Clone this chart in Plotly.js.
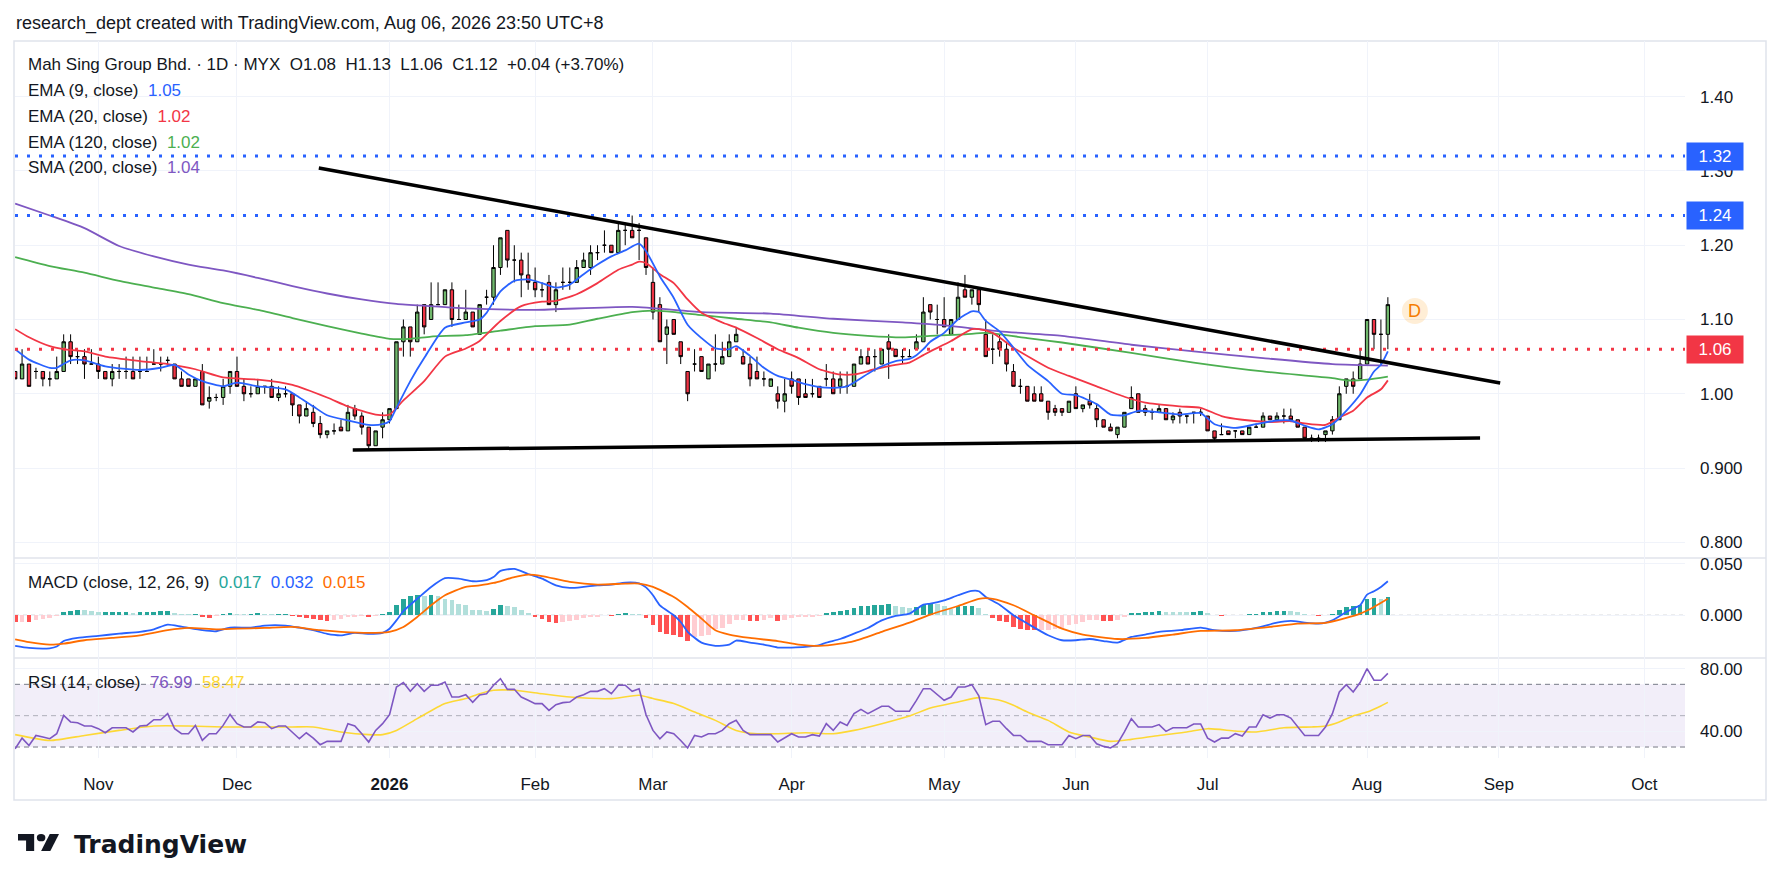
<!DOCTYPE html>
<html><head><meta charset="utf-8">
<script src="https://cdn.plot.ly/plotly-3.0.1.min.js"></script>
<style>html,body{margin:0;padding:0;background:#fff;overflow:hidden}#chart{width:1781px;height:891px}</style>
</head><body><div id="chart"></div>
<script>
// ---------- DATA ----------
const openP = [
1.03,1.02,1.04,1.03,1.03,1.02,1.02,1.03,1.07,1.05,
1.05,1.04,1.04,1.03,1.02,1.03,1.03,1.03,1.03,1.03,
1.04,1.04,1.045,1.04,1.02,1.02,1.01,1.03,0.99,0.995,
0.995,1.01,1.03,1.01,1.00,1.00,1.01,1.01,0.995,1.00,
1.00,0.985,0.97,0.975,0.96,0.945,0.95,0.955,0.95,0.98,
0.97,0.955,0.93,0.955,0.965,0.98,1.07,1.09,1.07,1.12,
1.10,1.12,1.12,1.14,1.10,1.10,1.11,1.08,1.13,1.13,
1.17,1.22,1.18,1.18,1.16,1.15,1.14,1.15,1.12,1.15,
1.15,1.15,1.17,1.17,1.19,1.20,1.20,1.19,1.22,1.22,
1.22,1.21,1.15,1.12,1.08,1.10,1.07,1.03,1.04,1.05,
1.02,1.04,1.04,1.05,1.07,1.05,1.04,1.03,1.02,1.01,
1.00,0.99,1.02,1.02,1.00,1.00,1.01,1.02,1.02,1.01,
1.01,1.01,1.04,1.05,1.05,1.04,1.07,1.06,1.05,1.05,
1.06,1.07,1.12,1.10,1.10,1.08,1.10,1.14,1.13,1.14,
1.08,1.06,1.07,1.06,1.03,1.01,1.01,1.00,1.00,0.99,
0.98,0.98,0.975,1.00,0.98,0.99,0.98,0.965,0.955,0.945,
0.955,0.98,1.00,0.98,0.975,0.975,0.98,0.965,0.975,0.97,
0.975,0.975,0.97,0.95,0.945,0.95,0.95,0.95,0.945,0.955,
0.955,0.97,0.965,0.97,0.97,0.965,0.955,0.94,0.94,0.945,
0.95,0.965,1.01,1.02,1.02,1.04,1.10,1.08,1.08];
const highP = [
1.03,1.06,1.04,1.035,1.03,1.03,1.05,1.08,1.08,1.06,
1.06,1.06,1.05,1.03,1.04,1.04,1.05,1.05,1.05,1.05,
1.06,1.05,1.05,1.04,1.03,1.02,1.02,1.04,1.01,1.00,
1.02,1.03,1.05,1.02,1.01,1.02,1.01,1.02,1.01,1.01,
1.00,0.985,0.99,0.985,0.97,0.95,0.96,0.965,0.985,0.985,
0.975,0.955,0.95,0.975,0.98,1.07,1.10,1.09,1.12,1.12,
1.15,1.15,1.14,1.15,1.12,1.14,1.11,1.12,1.14,1.20,
1.21,1.22,1.20,1.19,1.19,1.17,1.15,1.16,1.15,1.17,
1.17,1.18,1.19,1.20,1.20,1.22,1.20,1.23,1.23,1.24,
1.23,1.21,1.17,1.13,1.10,1.10,1.07,1.03,1.06,1.05,
1.04,1.08,1.07,1.08,1.09,1.06,1.05,1.05,1.03,1.02,
1.01,1.02,1.03,1.02,1.02,1.02,1.01,1.04,1.03,1.03,
1.03,1.04,1.06,1.06,1.06,1.06,1.08,1.06,1.06,1.06,
1.08,1.13,1.12,1.12,1.13,1.10,1.15,1.16,1.14,1.14,
1.10,1.08,1.08,1.07,1.04,1.02,1.01,1.01,1.01,0.99,
0.985,0.98,0.99,1.01,0.985,1.00,0.985,0.965,0.96,0.955,
0.975,1.01,1.00,0.985,0.98,0.985,0.98,0.975,0.98,0.97,
0.975,0.98,0.97,0.95,0.96,0.95,0.95,0.95,0.955,0.96,
0.975,0.97,0.975,0.98,0.98,0.965,0.955,0.945,0.945,0.95,
0.97,1.01,1.02,1.03,1.06,1.10,1.10,1.10,1.13];
const lowP = [
1.02,1.02,1.01,1.02,1.01,1.01,1.02,1.03,1.04,1.04,
1.02,1.04,1.02,1.02,1.01,1.02,1.02,1.02,1.02,1.03,
1.04,1.03,1.04,1.02,1.01,1.01,1.01,0.985,0.98,0.99,
0.985,1.00,1.01,0.99,0.995,1.00,1.00,0.995,0.99,0.995,
0.97,0.96,0.97,0.955,0.94,0.94,0.945,0.95,0.95,0.965,
0.945,0.925,0.93,0.94,0.96,0.98,1.05,1.05,1.07,1.08,
1.10,1.12,1.12,1.09,1.10,1.10,1.09,1.08,1.12,1.12,
1.16,1.17,1.15,1.13,1.14,1.13,1.13,1.12,1.11,1.14,
1.14,1.15,1.17,1.16,1.18,1.19,1.19,1.19,1.20,1.21,
1.18,1.16,1.10,1.07,1.04,1.08,1.04,0.99,1.03,1.03,
1.02,1.03,1.04,1.05,1.07,1.04,1.01,1.02,1.01,1.01,
0.98,0.975,1.00,0.985,0.995,0.995,0.995,1.01,1.00,1.00,
1.00,1.01,1.04,1.04,1.03,1.04,1.02,1.05,1.04,1.05,
1.06,1.07,1.10,1.08,1.09,1.08,1.10,1.13,1.12,1.11,
1.05,1.04,1.05,1.03,1.01,1.00,0.99,0.99,0.99,0.965,
0.97,0.97,0.975,0.98,0.975,0.98,0.955,0.955,0.95,0.94,
0.955,0.98,0.975,0.97,0.965,0.975,0.965,0.96,0.96,0.96,
0.96,0.97,0.95,0.935,0.945,0.945,0.94,0.945,0.945,0.955,
0.955,0.965,0.965,0.96,0.965,0.955,0.94,0.935,0.935,0.935,
0.945,0.965,1.00,1.00,1.02,1.04,1.06,1.04,1.06];
const closeP = [
1.02,1.04,1.01,1.03,1.02,1.02,1.03,1.07,1.05,1.05,
1.04,1.04,1.03,1.02,1.03,1.03,1.03,1.02,1.03,1.03,
1.04,1.04,1.045,1.02,1.01,1.01,1.02,0.985,0.995,0.995,
1.01,1.03,1.01,1.00,1.00,1.01,1.01,0.995,1.00,1.00,
0.985,0.97,0.98,0.96,0.945,0.95,0.95,0.95,0.975,0.97,
0.955,0.93,0.95,0.965,0.98,1.07,1.09,1.07,1.11,1.09,
1.12,1.12,1.14,1.10,1.10,1.11,1.09,1.12,1.13,1.17,
1.21,1.18,1.18,1.16,1.15,1.14,1.14,1.12,1.14,1.15,
1.15,1.17,1.18,1.19,1.19,1.20,1.19,1.22,1.22,1.21,
1.22,1.17,1.11,1.07,1.09,1.08,1.05,1.00,1.04,1.03,
1.04,1.04,1.05,1.07,1.08,1.04,1.02,1.02,1.02,1.02,
0.99,1.00,1.01,0.995,0.995,1.00,0.995,1.02,1.00,1.02,
1.01,1.04,1.05,1.04,1.05,1.06,1.06,1.05,1.05,1.05,
1.07,1.11,1.11,1.10,1.09,1.10,1.13,1.13,1.14,1.12,
1.05,1.06,1.06,1.04,1.01,1.01,0.99,0.99,0.99,0.975,
0.975,0.975,0.99,0.98,0.985,0.985,0.965,0.955,0.95,0.955,
0.975,0.995,0.975,0.975,0.975,0.98,0.965,0.97,0.97,0.97,
0.975,0.975,0.95,0.94,0.945,0.945,0.95,0.945,0.955,0.955,
0.97,0.965,0.97,0.97,0.965,0.955,0.94,0.94,0.94,0.95,
0.965,1.00,1.02,1.01,1.04,1.10,1.08,1.08,1.12];

// moving averages: [bar index, value]
const ema9 = [[0,1.060],[2,1.046],[5,1.035],[6,1.035],[8,1.045],[10,1.045],[13,1.037],[18,1.032],[21,1.035],[23,1.039],[25,1.026],[27,1.017],[30,1.010],[32,1.015],[35,1.010],[39,1.006],[41,0.995],[43,0.983],[45,0.971],[48,0.964],[51,0.958],[53,0.959],[54,0.963],[55,0.981],[57,1.017],[59,1.048],[62,1.089],[65,1.096],[67,1.100],[68,1.109],[70,1.138],[72,1.152],[74,1.154],[76,1.149],[78,1.143],[80,1.147],[82,1.161],[84,1.174],[86,1.185],[88,1.193],[90,1.202],[91,1.192],[93,1.158],[95,1.129],[97,1.093],[99,1.075],[101,1.061],[103,1.060],[104,1.064],[106,1.051],[108,1.035],[110,1.024],[112,1.019],[114,1.013],[116,1.009],[118,1.008],[120,1.010],[121,1.015],[123,1.027],[125,1.037],[127,1.044],[129,1.047],[130,1.052],[131,1.060],[132,1.070],[134,1.082],[136,1.100],[138,1.111],[139,1.110],[140,1.098],[142,1.084],[144,1.062],[146,1.039],[149,1.017],[151,1.000],[153,0.998],[156,0.986],[158,0.972],[160,0.971],[162,0.977],[165,0.975],[168,0.972],[171,0.974],[173,0.959],[176,0.954],[179,0.959],[182,0.964],[184,0.964],[186,0.957],[188,0.952],[190,0.959],[192,0.977],[194,0.999],[196,1.030],[197,1.039],[198,1.057]];
const ema20 = [[0,1.087],[2,1.076],[5,1.064],[7,1.060],[10,1.057],[13,1.050],[18,1.044],[22,1.040],[26,1.033],[30,1.022],[35,1.019],[40,1.012],[45,0.995],[48,0.983],[52,0.972],[54,0.972],[56,0.991],[59,1.017],[62,1.050],[65,1.061],[67,1.071],[68,1.080],[70,1.098],[73,1.118],[76,1.124],[78,1.125],[81,1.134],[84,1.149],[87,1.167],[89,1.174],[90,1.178],[91,1.176],[93,1.161],[95,1.149],[97,1.127],[99,1.109],[102,1.096],[104,1.089],[107,1.075],[110,1.060],[113,1.048],[116,1.033],[119,1.026],[121,1.026],[124,1.033],[127,1.039],[129,1.042],[131,1.052],[132,1.057],[135,1.071],[138,1.087],[139,1.087],[141,1.082],[144,1.062],[149,1.035],[152,1.024],[156,1.010],[160,0.996],[163,0.988],[168,0.983],[171,0.981],[174,0.970],[177,0.965],[181,0.962],[184,0.963],[186,0.960],[189,0.958],[191,0.968],[193,0.977],[195,0.995],[197,1.006],[198,1.018]];
const ema120 = [[0,1.184],[5,1.172],[10,1.163],[15,1.152],[20,1.143],[25,1.134],[30,1.122],[35,1.113],[40,1.102],[45,1.091],[50,1.081],[54,1.074],[57,1.074],[60,1.077],[65,1.079],[70,1.085],[75,1.091],[80,1.093],[84,1.101],[89,1.110],[92,1.112],[94,1.111],[99,1.106],[104,1.101],[109,1.096],[113,1.089],[118,1.082],[123,1.078],[128,1.076],[132,1.078],[137,1.080],[140,1.082],[146,1.075],[151,1.069],[161,1.055],[170,1.042],[180,1.030],[190,1.021],[192,1.018],[195,1.019],[198,1.023]];
const sma200 = [[0,1.256],[5,1.240],[10,1.223],[15,1.199],[20,1.185],[25,1.174],[30,1.166],[35,1.156],[40,1.145],[45,1.135],[50,1.127],[55,1.121],[60,1.118],[65,1.115],[75,1.113],[89,1.117],[99,1.110],[109,1.108],[118,1.101],[128,1.096],[133,1.093],[142,1.084],[151,1.078],[161,1.066],[170,1.057],[180,1.048],[190,1.040],[198,1.038]];

// MACD (12,26,9)
const macdHist = [
-0.007,-0.0065,-0.007,-0.005,-0.004,-0.003,-0.001,0.003,0.004,0.005,
0.0048,0.0046,0.003,0.0031,0.0032,0.0033,0.0034,0.002,0.003,0.0032,
0.0035,0.0038,0.0042,0.0022,0.0012,0.001,0.0012,-0.002,-0.0022,-0.001,
0.001,0.002,0.0012,0.001,0.0012,0.002,0.0012,0.001,0.0011,0.0012,
-0.001,-0.002,-0.003,-0.004,-0.005,-0.006,-0.0042,-0.004,-0.002,-0.0015,
-0.001,-0.002,-0.001,0.001,0.003,0.010,0.016,0.019,0.020,0.019,
0.020,0.019,0.016,0.0145,0.011,0.0097,0.0055,0.005,0.004,0.006,
0.0103,0.009,0.008,0.005,0.002,-0.0016,-0.004,-0.007,-0.0072,-0.0065,
-0.0055,-0.005,-0.003,-0.002,-0.0016,0.0006,-0.0006,0.0013,0.002,0.0013,
0.001,-0.003,-0.009,-0.016,-0.0178,-0.0187,-0.021,-0.025,-0.021,-0.020,
-0.0187,-0.013,-0.012,-0.008,-0.005,-0.0048,-0.0055,-0.0056,-0.005,-0.003,
-0.0055,-0.005,-0.003,-0.002,-0.0019,-0.0016,-0.0006,0.002,0.003,0.004,
0.005,0.007,0.009,0.0091,0.0103,0.0104,0.0105,0.009,0.008,0.007,
0.008,0.0103,0.0113,0.0112,0.009,0.0065,0.009,0.0091,0.0092,0.007,
0.0013,-0.003,-0.0055,-0.007,-0.011,-0.013,-0.014,-0.0145,-0.014,-0.0139,
-0.0136,-0.012,-0.0097,-0.008,-0.0065,-0.005,-0.0049,-0.0052,-0.0053,-0.005,
-0.002,0.002,0.0021,0.003,0.0031,0.004,0.003,0.0029,0.0028,0.0027,
0.003,0.004,0.002,0.0006,-0.0003,-0.0002,-0.0001,0.0006,0.0013,0.0014,
0.003,0.0031,0.004,0.0041,0.0039,0.003,0.0013,0.0006,-0.0003,0.0006,
0.0013,0.005,0.008,0.009,0.0103,0.0155,0.0168,0.0155,0.0178];
const macdLine = [[0,-0.0297],[2,-0.0317],[5,-0.032],[6,-0.0303],[7,-0.025],[9,-0.022],[12,-0.020],[15,-0.0178],[18,-0.016],[20,-0.0136],[22,-0.009],[24,-0.011],[27,-0.0145],[29,-0.0155],[31,-0.012],[34,-0.012],[36,-0.010],[39,-0.010],[41,-0.012],[43,-0.0145],[45,-0.018],[47,-0.0194],[49,-0.017],[51,-0.018],[53,-0.017],[54,-0.013],[55,-0.005],[56,0.004],[58,0.016],[60,0.0275],[62,0.036],[64,0.0355],[66,0.033],[68,0.034],[69,0.037],[70,0.043],[72,0.045],[74,0.040],[76,0.0355],[78,0.029],[80,0.0265],[82,0.0275],[84,0.029],[86,0.0297],[88,0.0317],[90,0.031],[91,0.027],[92,0.0194],[93,0.0097],[95,0],[96,-0.0065],[97,-0.016],[99,-0.0265],[101,-0.0297],[103,-0.0284],[104,-0.0245],[106,-0.0265],[108,-0.0284],[110,-0.0313],[112,-0.0313],[114,-0.0307],[116,-0.029],[117,-0.0265],[119,-0.023],[121,-0.0178],[123,-0.0123],[125,-0.005],[127,-0.0006],[129,0.0016],[131,0.0103],[132,0.0113],[134,0.0145],[136,0.0194],[138,0.0236],[139,0.0233],[140,0.0178],[142,0.0103],[144,0],[146,-0.008],[149,-0.0194],[151,-0.0242],[153,-0.0242],[155,-0.023],[157,-0.025],[159,-0.0265],[161,-0.021],[163,-0.0187],[165,-0.016],[168,-0.0145],[171,-0.012],[173,-0.0145],[176,-0.0152],[179,-0.0123],[182,-0.0071],[184,-0.0055],[186,-0.0071],[188,-0.008],[189,-0.0071],[190,-0.0048],[192,0.0032],[193,0.0065],[194,0.0097],[195,0.020],[196,0.0233],[197,0.0275],[198,0.033]];
const macdSignal = [[0,-0.0233],[2,-0.026],[5,-0.0284],[7,-0.0275],[10,-0.0242],[14,-0.022],[18,-0.0194],[22,-0.0145],[25,-0.0123],[29,-0.0136],[32,-0.013],[36,-0.0123],[40,-0.0113],[44,-0.0145],[47,-0.016],[51,-0.0171],[54,-0.016],[56,-0.0113],[58,-0.0016],[60,0.0097],[62,0.0194],[65,0.0275],[67,0.029],[69,0.0313],[72,0.037],[74,0.0394],[76,0.038],[80,0.0323],[84,0.0297],[88,0.0307],[90,0.0307],[92,0.0275],[95,0.0178],[97,0.0081],[99,-0.0032],[101,-0.0145],[103,-0.0187],[106,-0.022],[110,-0.025],[113,-0.0284],[116,-0.0297],[119,-0.0275],[121,-0.025],[125,-0.016],[129,-0.0071],[132,0.0006],[136,0.009],[139,0.016],[141,0.016],[144,0.0097],[147,0],[151,-0.013],[154,-0.0187],[159,-0.023],[163,-0.022],[167,-0.0187],[171,-0.0152],[176,-0.0145],[181,-0.0113],[185,-0.008],[189,-0.0074],[192,-0.0026],[194,0.0016],[196,0.0081],[198,0.016]];

// RSI (14) and its moving average
const rsi = [
28.9,35.7,31.0,37.4,36.4,35.3,38.5,50.2,46.0,45.5,
43.4,43.4,41.7,39.1,42.3,42.3,42.3,39.6,43.4,43.8,
47.4,47.4,51.3,41.7,38.5,38.5,43.8,34.2,38.5,38.5,
43.8,50.8,44.9,42.8,42.8,46.0,45.5,41.7,43.4,43.4,
39.6,35.3,39.1,35.7,31.5,33.6,33.6,33.6,44.9,43.4,
38.5,33.2,40.6,44.9,50.6,68.3,71.1,65.5,70.4,65.5,
69.4,69.4,71.5,61.9,61.9,63.4,58.5,63.2,64.0,69.4,
73.6,66.8,66.8,61.9,59.8,57.7,57.7,53.4,57.0,58.3,
58.7,61.9,63.4,65.5,65.5,67.2,64.0,69.4,69.4,65.5,
67.2,50.6,40.6,35.3,39.6,38.5,34.2,29.4,37.4,36.4,
38.5,38.5,40.6,44.9,47.0,40.6,37.9,37.9,37.9,37.9,
33.2,35.7,38.5,36.4,36.4,37.9,37.0,44.9,40.6,46.0,
43.8,51.3,54.0,51.3,53.4,56.0,56.0,52.8,52.8,52.8,
59.8,67.2,67.2,63.4,59.8,61.9,68.3,68.3,69.8,62.6,
44.3,46.4,46.4,41.7,37.4,37.4,33.6,33.6,33.6,31.5,
31.5,31.5,37.4,35.3,37.4,37.4,32.1,30.4,29.4,32.1,
39.6,48.1,42.8,42.8,42.8,44.3,40.0,42.3,42.3,42.3,
44.7,44.7,35.7,33.2,35.7,35.7,38.5,37.0,42.8,42.8,
50.6,48.5,50.6,50.6,48.5,42.8,37.4,37.4,37.4,42.8,
51.3,65.1,69.8,65.1,71.1,80.0,72.6,72.6,77.0];
const rsiMa = [[0,37.9],[5,34.2],[10,37.4],[15,40.6],[20,43.4],[25,43.4],[30,42.8],[35,42.8],[40,42.8],[43,42.8],[47,39.6],[51,37.9],[53,37.9],[55,40.6],[58,48.1],[62,57.7],[65,60.9],[67,64.0],[69,66.2],[72,66.2],[76,64.0],[80,61.9],[86,60.9],[90,63.0],[92,60.9],[95,57.7],[98,52.3],[101,47.0],[104,40.6],[107,38.5],[110,38.5],[114,39.1],[118,38.5],[121,40.6],[125,44.9],[129,49.8],[132,54.9],[136,58.7],[139,61.5],[142,59.8],[144,56.6],[146,52.3],[149,47.0],[152,39.6],[155,36.4],[158,33.6],[161,34.9],[165,37.4],[169,39.6],[172,41.7],[176,40.2],[179,39.6],[183,42.3],[187,42.8],[189,43.4],[191,46.0],[193,49.8],[195,52.3],[197,56.2],[198,58.5]];

// time axis: bar index of the first bar of each month, and labels
const monthIdx = [12,32,54,75,92,112,134,153,172,195,214,235];
const monthLabels = ['Nov','Dec','<b>2026</b>','Feb','Mar','Apr','May','Jun','Jul','Aug','Sep','Oct'];
// price axis ticks
const priceTicks = [0.8,0.9,1.0,1.1,1.2,1.3,1.4];
const priceTickText = ['0.800','0.900','1.00','1.10','1.20','1.30','1.40'];
// horizontal levels drawn on the chart
const levelPrices = [1.32,1.24,1.06];
const levelKinds = ['blue','blue','red'];
// triangle trendlines: [startIdx, startPrice, endIdx, endPrice]
const trendUpper = [43.8,1.304,214.2,1.0145];
const trendLower = [48.7,0.9242,211.3,0.9404];
// dividend marker
const divMarker = [201.9,1.1114];

// ---------- RENDER ----------
const F = 'Liberation Sans, Arial, sans-serif';
const TXT = '#131722';
const L = 15, R = 1685, T = 41, B = 758;
const px = x => (x - L) / (R - L);
const py = y => (B - y) / (B - T);
const idx = closeP.map((_, i) => i);
const xs = p => p.map(d => d[0]);
const ys = p => p.map(d => d[1]);

const histColors = macdHist.map((v, i) => {
  const prev = i > 0 ? macdHist[i - 1] : v;
  if (v >= 0) return v >= prev ? '#26a69a' : '#b2dfdb';
  return v <= prev ? '#ff5252' : '#ffcdd2';
});

const lineTrace = (p, color, yaxis, w) => ({
  type: 'scatter', mode: 'lines', x: xs(p), y: ys(p), xaxis: 'x', yaxis: yaxis,
  line: {color: color, width: w, shape: 'spline', smoothing: 0.6},
  hoverinfo: 'skip', showlegend: false
});

const traces = [
  {type: 'candlestick', x: idx, open: openP, high: highP, low: lowP, close: closeP,
   xaxis: 'x', yaxis: 'y', whiskerwidth: 0,
   increasing: {fillcolor: '#70b86c', line: {color: '#000000', width: 1}},
   decreasing: {fillcolor: '#ef3344', line: {color: '#000000', width: 1}},
   hoverinfo: 'skip', showlegend: false},
  lineTrace(sma200, '#7e57c2', 'y', 1.8),
  lineTrace(ema120, '#4caf50', 'y', 1.8),
  lineTrace(ema20, '#f23645', 'y', 1.8),
  lineTrace(ema9, '#2962ff', 'y', 1.8),
  {type: 'bar', x: idx, y: macdHist, xaxis: 'x', yaxis: 'y2', width: 0.68,
   marker: {color: histColors, line: {width: 0}}, hoverinfo: 'skip', showlegend: false},
  lineTrace(macdLine, '#2962ff', 'y2', 1.8),
  lineTrace(macdSignal, '#ff6d00', 'y2', 1.8),
  lineTrace(rsiMa, '#fdd835', 'y3', 1.6),
  {type: 'scatter', mode: 'lines', x: idx, y: rsi, xaxis: 'x', yaxis: 'y3',
   line: {color: '#7e57c2', width: 1.6}, hoverinfo: 'skip', showlegend: false}
];

const shapes = [];
// outer frame and pane separators
shapes.push({type: 'rect', xref: 'paper', yref: 'paper', x0: px(14), x1: px(1766), y0: py(800), y1: py(41),
  line: {color: '#e0e3eb', width: 1.5}, fillcolor: 'rgba(0,0,0,0)', layer: 'below'});
[558, 658].forEach(y => shapes.push({type: 'line', xref: 'paper', yref: 'paper', x0: px(14), x1: px(1766),
  y0: py(y), y1: py(y), line: {color: '#e0e3eb', width: 1.5}, layer: 'below'}));
// RSI band + dashed levels
shapes.push({type: 'rect', xref: 'paper', yref: 'y3', x0: 0, x1: 1, y0: 30, y1: 70,
  fillcolor: 'rgba(126,87,194,0.10)', line: {width: 0}, layer: 'below'});
[[70, 'rgba(120,123,134,1)'], [50, 'rgba(120,123,134,0.55)'], [30, 'rgba(120,123,134,1)']].forEach(d =>
  shapes.push({type: 'line', xref: 'paper', yref: 'y3', x0: 0, x1: 1, y0: d[0], y1: d[0],
    line: {color: d[1], width: 1, dash: '5px,4px'}, layer: 'below'}));
// MACD zero line
shapes.push({type: 'line', xref: 'paper', yref: 'y2', x0: 0, x1: 1, y0: 0, y1: 0,
  line: {color: 'rgba(120,123,134,0.6)', width: 1, dash: '4px,4px'}, layer: 'below'});
// horizontal price levels
levelPrices.forEach((p, i) => shapes.push({type: 'line', xref: 'paper', yref: 'y', x0: 0, x1: 1, y0: p, y1: p,
  line: {color: levelKinds[i] === 'blue' ? '#2962ff' : '#f23645', width: 3, dash: '3px,9px'}}));
// trendlines
[trendUpper, trendLower].forEach(t => shapes.push({type: 'line', xref: 'x', yref: 'y',
  x0: t[0], y0: t[1], x1: t[2], y1: t[3], line: {color: '#000000', width: 3.5}}));
// dividend marker circle
shapes.push({type: 'circle', xref: 'x', yref: 'y', xsizemode: 'pixel', ysizemode: 'pixel',
  xanchor: divMarker[0], yanchor: divMarker[1], x0: -13, x1: 13, y0: -13, y1: 13,
  fillcolor: 'rgba(255,152,0,0.16)', line: {width: 0}});
// TradingView logo mark
const LX = v => px(18 + v * 1.155), LY = v => py(834 + (v - 4) * 0.944);
const lp = pts => 'M' + pts.map(p => LX(p[0]) + ',' + LY(p[1])).join(' L') + ' Z';
shapes.push({type: 'path', xref: 'paper', yref: 'paper', path: lp([[14,22],[7,22],[7,11],[0,11],[0,4],[14,4]]),
  fillcolor: '#131722', line: {width: 0}});
shapes.push({type: 'path', xref: 'paper', yref: 'paper', path: lp([[28,22],[20,22],[27.5,4],[35.5,4]]),
  fillcolor: '#131722', line: {width: 0}});
shapes.push({type: 'circle', xref: 'paper', yref: 'paper', x0: LX(16.3), x1: LX(23.7), y0: LY(11.8), y1: LY(4),
  fillcolor: '#131722', line: {width: 0}});

const S = '\u00a0';
const col = (c, t) => '<span style="color:' + c + '">' + t + '</span>';
const legendRows = [
  [64, 'Mah Sing Group Bhd.' + S + '·' + S + '1D' + S + '·' + S + 'MYX' + S+S + 'O1.08' + S+S + 'H1.13' + S+S + 'L1.06' + S+S + 'C1.12' + S+S + '+0.04' + S + '(+3.70%)'],
  [90, 'EMA (9, close)' + S+S + col('#2962ff', '1.05')],
  [116, 'EMA (20, close)' + S+S + col('#f23645', '1.02')],
  [142, 'EMA (120, close)' + S+S + col('#4caf50', '1.02')],
  [168, 'SMA (200, close)' + S+S + col('#7e57c2', '1.04')],
  [582, 'MACD (close, 12, 26, 9)' + S+S + col('#26a69a', '0.017') + S+S + col('#2962ff', '0.032') + S+S + col('#ff6d00', '0.015')],
  [682, 'RSI (14, close)' + S+S + col('#7e57c2', '76.99') + S+S + col('#fdd835', '58.47')]
];
const annotations = legendRows.map(r => ({
  xref: 'paper', yref: 'paper', x: px(26), y: py(r[0]), xanchor: 'left', yanchor: 'middle',
  text: r[1], showarrow: false, font: {family: F, size: 17, color: TXT}
}));
annotations.push({xref: 'paper', yref: 'paper', x: px(14), y: py(23), xanchor: 'left', yanchor: 'middle',
  text: 'research_dept created with TradingView.com, Aug 06, 2026 23:50 UTC+8', showarrow: false,
  font: {family: F, size: 18, color: TXT}});
annotations.push({xref: 'paper', yref: 'paper', x: px(72), y: py(844), xanchor: 'left', yanchor: 'middle',
  text: '<b>TradingView</b>', showarrow: false, font: {family: 'DejaVu Sans, Liberation Sans, sans-serif', size: 25, color: TXT}});
levelPrices.forEach((p, i) => annotations.push({xref: 'paper', yref: 'y', x: 1, y: p, xanchor: 'left', yanchor: 'middle',
  xshift: 1, text: p.toFixed(2), showarrow: false, width: 56, height: 27, borderpad: 0, align: 'center',
  bgcolor: levelKinds[i] === 'blue' ? '#2962ff' : '#f23645', font: {family: F, size: 17, color: '#ffffff'}}));
annotations.push({xref: 'x', yref: 'y', x: divMarker[0], y: divMarker[1], text: 'D', showarrow: false,
  font: {family: F, size: 18, color: '#f57c00'}, xanchor: 'center', yanchor: 'middle'});

const axFont = {family: F, size: 17, color: TXT};
const layout = {
  width: 1781, height: 891, paper_bgcolor: '#ffffff', plot_bgcolor: '#ffffff',
  margin: {l: L, r: 1781 - R, t: T, b: 891 - B, pad: 0},
  showlegend: false, bargap: 0, dragmode: false,
  xaxis: {domain: [0, 1], range: [-0.02, 240.86], anchor: 'y3', tickmode: 'array', tickvals: monthIdx, ticktext: monthLabels,
    showgrid: true, gridcolor: '#f0f3fa', gridwidth: 1, zeroline: false, showline: false, ticks: '',
    ticklabelstandoff: 14, tickfont: {family: F, size: 17, color: TXT}, rangeslider: {visible: false}, fixedrange: true},
  yaxis: {domain: [0.2789, 1], range: [0.7788, 1.475], side: 'right', anchor: 'x', tickmode: 'array',
    tickvals: priceTicks, ticktext: priceTickText, showgrid: true, gridcolor: '#f0f3fa', zeroline: false, ticks: '',
    ticklabelstandoff: 14, tickfont: axFont, fixedrange: true},
  yaxis2: {domain: [0.1395, 0.2789], range: [-0.0414, 0.0555], side: 'right', anchor: 'x', tickmode: 'array',
    tickvals: [0, 0.05], ticktext: ['0.000', '0.050'], showgrid: true, gridcolor: '#f0f3fa', zeroline: false, ticks: '',
    ticklabelstandoff: 14, tickfont: axFont, fixedrange: true},
  yaxis3: {domain: [0, 0.1395], range: [23, 86.8], side: 'right', anchor: 'x', tickmode: 'array',
    tickvals: [40, 80], ticktext: ['40.00', '80.00'], showgrid: true, gridcolor: '#f0f3fa', zeroline: false, ticks: '',
    ticklabelstandoff: 14, tickfont: axFont, fixedrange: true},
  shapes: shapes, annotations: annotations
};
Plotly.newPlot('chart', traces, layout, {staticPlot: true, displayModeBar: false});
</script>
</body></html>
